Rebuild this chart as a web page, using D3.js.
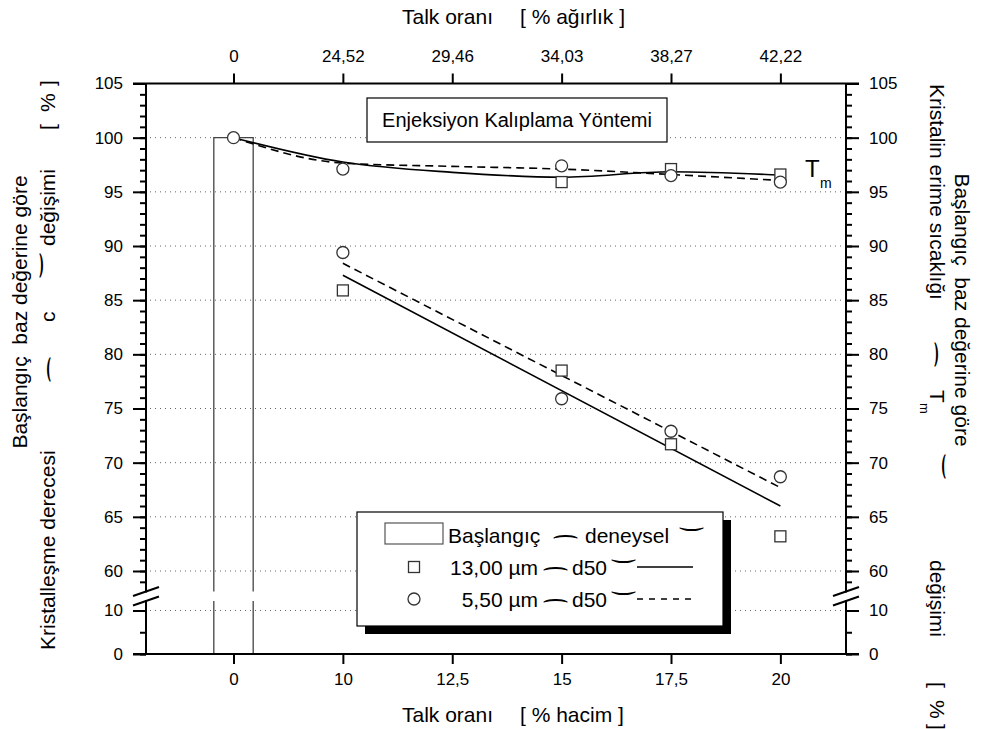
<!DOCTYPE html>
<html lang="tr">
<head>
<meta charset="UTF-8">
<title>Talk oranı</title>
<script src="https://d3js.org/d3.v7.min.js"></script>
<style>
  body { margin: 0; background: #fff; }
  svg { font-family: "Liberation Sans", Arial, sans-serif; }
  text { white-space: pre; }
  .tick text { font-size: 17px; fill: #000; }
  .tick line { stroke: #000; stroke-width: 2; }
  .grid { stroke: #666; stroke-width: 1; stroke-dasharray: 1,4; }
</style>
</head>
<body>
<div id="chart"></div>
<script>
// x categories (equally spaced on the chart)
const xVals = [0, 10, 12.5, 15, 17.5, 20];
const xLabels = ["0", "10", "12,5", "15", "17,5", "20"];
const xTopLabels = ["0", "24,52", "29,46", "34,03", "38,27", "42,22"];

// initial (experimental) bar
const barX = 0;
const barVal = 100;

// Tm change (%)
const tmSqX = [15, 17.5, 20];
const tmSq = [95.9, 97.1, 96.6];
const tmCiX = [0, 10, 15, 17.5, 20];
const tmCi = [100, 97.1, 97.4, 96.5, 95.9];
const tmFitX = [0, 10, 12.5, 15, 17.5, 20];
const tmFit13 = [100, 97.75, 96.8, 96.35, 96.85, 96.55];
const tmFit55 = [100, 97.65, 97.35, 97.1, 96.6, 96.05];

// crystallinity change (%)
const cX = [10, 15, 17.5, 20];
const cSq = [85.9, 78.5, 71.7, 63.2];
const cCi = [89.4, 75.9, 72.9, 68.7];
const cFitX = [10, 20];
const cFit13 = [87.3, 66.0];
const cFit55 = [88.4, 67.7];

const width = 990, height = 729;
const svg = d3.select("#chart").append("svg")
    .attr("width", width).attr("height", height);

const pLeft = 146, pRight = 846, pTop = 83.5, pBottom = 654;
const x = d3.scaleLinear().domain([-0.8, 5.6]).range([pLeft, pRight]);
const xi = v => x(xVals.indexOf(v));
const yUp = d3.scaleLinear().domain([60, 105]).range([571, pTop]);
const yLow = d3.scaleLinear().domain([0, 10]).range([pBottom, 610.5]);
const y = v => v >= 30 ? yUp(v) : yLow(v);
const breakA = 591.5, breakB = 601;

// grid
const gridVals = d3.range(60, 101, 5);
svg.append("g").selectAll("line")
    .data(gridVals).enter().append("line")
    .attr("class", "grid")
    .attr("x1", pLeft + 4).attr("x2", pRight - 2)
    .attr("y1", d => yUp(d)).attr("y2", d => yUp(d));
svg.append("line").attr("class", "grid")
    .attr("x1", pLeft + 4).attr("x2", pRight - 2)
    .attr("y1", yLow(10)).attr("y2", yLow(10));

// initial bar (broken at the axis break)
const bx0 = x(xVals.indexOf(barX) - 0.18), bx1 = x(xVals.indexOf(barX) + 0.18);
svg.append("path")
    .attr("d", `M${bx0},${breakA}V${y(barVal)}H${bx1}V${breakA}M${bx0},${breakB}V${pBottom}M${bx1},${breakB}V${pBottom}`)
    .attr("fill", "none").attr("stroke", "#444").attr("stroke-width", 1.3);

// fit lines
const line = d3.line().x(d => xi(d[0])).y(d => y(d[1]));
function fit(xs, ys, dash, curve) {
    svg.append("path")
        .datum(xs.map((v, i) => [v, ys[i]]))
        .attr("fill", "none").attr("stroke", "#000").attr("stroke-width", 1.6)
        .attr("stroke-dasharray", dash)
        .attr("d", line.curve(curve));
}
fit(tmFitX, tmFit13, null, d3.curveMonotoneX);
fit(tmFitX, tmFit55, "8,5", d3.curveMonotoneX);
fit(cFitX, cFit13, null, d3.curveLinear);
fit(cFitX, cFit55, "8,5", d3.curveLinear);

// markers
function squares(xs, ys) {
    svg.append("g").selectAll("rect").data(xs).enter().append("rect")
        .attr("x", d => xi(d) - 5.5).attr("y", (d, i) => y(ys[i]) - 5.5)
        .attr("width", 11).attr("height", 11)
        .attr("fill", "#fff").attr("stroke", "#333").attr("stroke-width", 1.3);
}
function circles(xs, ys) {
    svg.append("g").selectAll("circle").data(xs).enter().append("circle")
        .attr("cx", d => xi(d)).attr("cy", (d, i) => y(ys[i])).attr("r", 6)
        .attr("fill", "#fff").attr("stroke", "#333").attr("stroke-width", 1.3);
}
squares(tmSqX, tmSq);
squares(cX, cSq);
circles(tmCiX, tmCi);
circles(cX, cCi);

// axes
const upMajor = d3.range(60, 106, 5), upMinor = d3.range(59, 106, 1);
const lowMajor = [0, 10], lowMinor = [0, 5, 10];
function yAxes(axisFn, xpos, pad) {
    const g = svg.append("g").attr("transform", `translate(${xpos},0)`);
    g.append("g").call(axisFn(yUp).tickValues(upMinor).tickSize(6).tickFormat(""));
    g.append("g").call(axisFn(yUp).tickValues(upMajor).tickSize(13).tickPadding(pad));
    g.append("g").call(axisFn(yLow).tickValues(lowMinor).tickSize(6).tickFormat(""));
    g.append("g").call(axisFn(yLow).tickValues(lowMajor).tickSize(13).tickPadding(pad));
    g.selectAll(".domain").remove();
    g.append("line").attr("y1", pTop).attr("y2", breakA + 1).attr("stroke", "#000").attr("stroke-width", 2);
    g.append("line").attr("y1", breakB - 1).attr("y2", pBottom).attr("stroke", "#000").attr("stroke-width", 2);
    [breakA, breakB].forEach(b => g.append("line")
        .attr("x1", -13).attr("y1", b + 4.5).attr("x2", 13).attr("y2", b - 4.5)
        .attr("stroke", "#000").attr("stroke-width", 2));
}
yAxes(d3.axisLeft, pLeft, 10);
yAxes(d3.axisRight, pRight, 10);

const idx = d3.range(xVals.length);
const gb = svg.append("g").attr("transform", `translate(0,${pBottom})`)
    .call(d3.axisBottom(x).tickValues(idx).tickFormat(i => xLabels[i]).tickSize(10).tickPadding(9));
gb.select(".domain").remove();
gb.append("line").attr("x1", pLeft - 13).attr("x2", pRight + 13).attr("stroke", "#000").attr("stroke-width", 2);
const gt = svg.append("g").attr("transform", `translate(0,${pTop})`)
    .call(d3.axisTop(x).tickValues(idx).tickFormat(i => xTopLabels[i]).tickSize(10).tickPadding(12));
gt.select(".domain").remove();
gt.append("line").attr("x1", pLeft - 13).attr("x2", pRight + 13).attr("stroke", "#000").attr("stroke-width", 2);

// text helpers
function txt(s, px, py, size, anchor) {
    return svg.append("text").attr("x", px).attr("y", py).attr("font-size", size)
        .attr("text-anchor", anchor || "start").text(s);
}
// the bracket arcs, stretched sideways so they stay thin
function arc(s, px, py) {
    return svg.append("text").attr("transform", `translate(${px},${py}) scale(2.2,1)`)
        .attr("font-size", 20).text(s);
}

// axis titles
txt("Talk oranı", 402, 24, 21);
txt("[ % ağırlık ]", 520, 24, 21);
txt("Talk oranı", 402, 722, 21);
txt("[ % hacim ]", 520, 722, 21);

// rotated titles: pieces placed along the vertical
function rot(pieces, px, angle) {
    const g = svg.append("g");
    pieces.forEach(p => {
        g.append("text")
            .attr("transform", `translate(${px + (p.off || 0)},${p.at}) rotate(${angle})` + (p.sx ? ` scale(${p.sx},1)` : ""))
            .attr("font-size", p.size || 21)
            .attr("text-anchor", p.anchor || "start")
            .text(p.s);
    });
}
rot([{ s: "Başlangıç  baz değerine göre", at: 312, anchor: "middle" }], 27, -90);
rot([
    { s: "Kristalleşme derecesi", at: 650 },
    { s: "⌢", at: 384, size: 20, sx: 2.2, off: -1 },
    { s: "c", at: 322 },
    { s: "⌣", at: 280, size: 20, sx: 2.2, off: -9 },
    { s: "değişimi", at: 246 },
    { s: "[", at: 130 },
    { s: "%", at: 112 },
    { s: "]", at: 86 }
], 55, -90);
rot([{ s: "Başlangıç  baz değerine göre", at: 310, anchor: "middle" }], 955, 90);
rot([
    { s: "Kristalin erime sıcaklığı", at: 84 },
    { s: "⌢", at: 340, size: 20, sx: 2.2, off: 1 },
    { s: "T", at: 390 },
    { s: "m", at: 403, size: 13, off: -10 },
    { s: "⌣", at: 452, size: 20, sx: 2.2, off: 9 },
    { s: "değişimi", at: 560 },
    { s: "[", at: 682 },
    { s: "%", at: 700 },
    { s: "]", at: 724 }
], 930, 90);

// Tm label
txt("T", 805, 177, 24);
txt("m", 820, 188, 14);

// title box
svg.append("rect").attr("x", 367).attr("y", 98).attr("width", 300).attr("height", 44)
    .attr("fill", "#fff").attr("stroke", "#000").attr("stroke-width", 1.2);
txt("Enjeksiyon Kalıplama Yöntemi", 517, 127, 20, "middle");

// legend
svg.append("rect").attr("x", 365).attr("y", 520).attr("width", 366).attr("height", 114).attr("fill", "#000");
svg.append("rect").attr("x", 357).attr("y", 512).attr("width", 366).attr("height", 114)
    .attr("fill", "#fff").attr("stroke", "#000").attr("stroke-width", 1.2);
svg.append("rect").attr("x", 385).attr("y", 523).attr("width", 58).attr("height", 21)
    .attr("fill", "#fff").attr("stroke", "#555").attr("stroke-width", 1.2);
txt("Başlangıç", 448, 543, 21);
arc("⌢", 551, 542);
txt("deneysel", 585, 543, 21);
arc("⌣", 677, 534);
svg.append("rect").attr("x", 408.5).attr("y", 561.5).attr("width", 11).attr("height", 11)
    .attr("fill", "#fff").attr("stroke", "#333").attr("stroke-width", 1.3);
txt("13,00 µm", 538, 575, 21, "end");
arc("⌢", 541, 574);
txt("d50", 572, 575, 21);
arc("⌣", 609, 566);
svg.append("line").attr("x1", 637).attr("x2", 693).attr("y1", 567).attr("y2", 567)
    .attr("stroke", "#000").attr("stroke-width", 1.6);
svg.append("circle").attr("cx", 414).attr("cy", 599).attr("r", 6)
    .attr("fill", "#fff").attr("stroke", "#333").attr("stroke-width", 1.3);
txt("5,50 µm", 538, 607, 21, "end");
arc("⌢", 541, 606);
txt("d50", 572, 607, 21);
arc("⌣", 609, 598);
svg.append("line").attr("x1", 637).attr("x2", 693).attr("y1", 599).attr("y2", 599)
    .attr("stroke", "#000").attr("stroke-width", 1.6).attr("stroke-dasharray", "6,6");
</script>
</body>
</html>
